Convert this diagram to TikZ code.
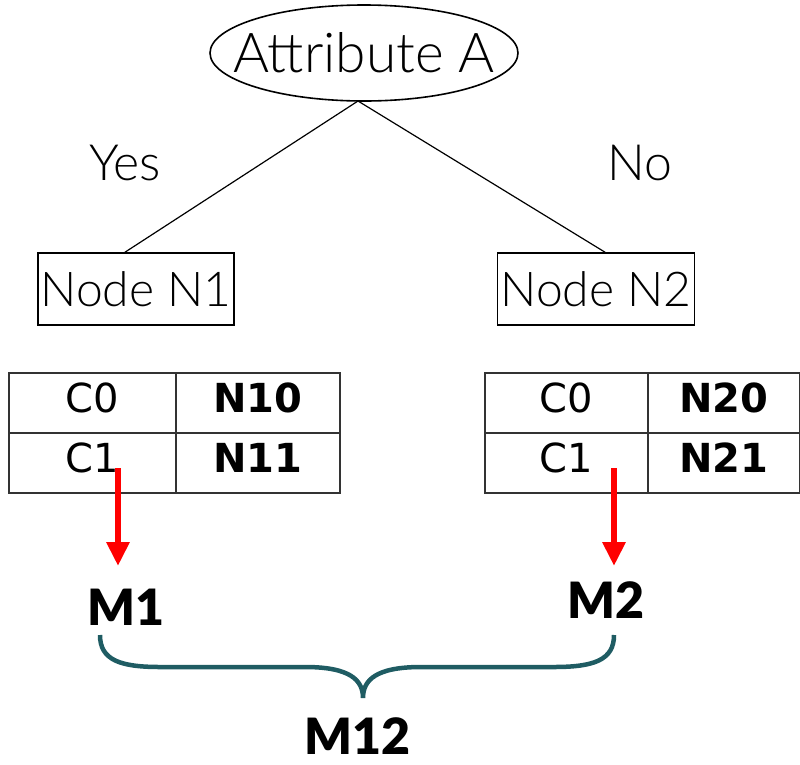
\documentclass[tikz,border=0pt]{standalone}
\usepackage{fontspec}
\setmainfont{Lato Light}
\newfontfamily\boldfont{Lato Black}
\newfontfamily\tabfont{DejaVu Sans}
\usetikzlibrary{shapes.geometric,arrows.meta}

\tikzset{
  cell/.style={draw=black!80,line width=1.2pt,minimum height=60pt,inner sep=0pt,text height=30pt,text depth=12pt,font=\tabfont\fontsize{40}{40}\selectfont},
  bcell/.style={cell,font=\tabfont\bfseries\fontsize{40}{40}\selectfont},
  mlabel/.style={font=\boldfont\fontsize{50}{50}\selectfont,inner sep=1pt},
  nodebox/.style={draw,line width=1.6pt,minimum height=72pt,inner sep=0pt,font=\fontsize{48}{48}\selectfont}
}

\begin{document}
\begin{tikzpicture}[x=1pt,y=-1pt]
                    \useasboundingbox (0,0) rectangle (800,764);
                    \node[font=\fontsize{55}{55}\selectfont](A) at (364,53){Attribute A};
                    \draw[line width=1.6pt](A.center) ellipse (154 and 48);
                    \coordinate (top) at (358,101);
                    \node[nodebox,minimum width=196pt](N1) at (136,289){Node N1};
                    \node[nodebox,minimum width=197pt](N2) at (596,289){Node N2};
                    \node[font=\fontsize{50}{50}\selectfont](yes) at (125,163){Yes};
                    \node[font=\fontsize{50}{50}\selectfont](no) at (640,163){No};
                    \draw[line width=1.2pt](top)--(N1.north -| 125,0);
                    \draw[line width=1.2pt](top)--(N2.north -| 605,0);
                    % tables
                    \node[cell,minimum width=167pt](C10) at (92.5,403){C0};
                    \node[bcell,minimum width=164pt](N10) at (258,403){N10};
                    \node[cell,minimum width=167pt](C11) at (92.5,463){C1};
                    \node[bcell,minimum width=164pt](N11) at (258,463){N11};
                    \node[cell,minimum width=163pt](C20) at (566.5,403){C0};
                    \node[bcell,minimum width=152pt](N20) at (724,403){N20};
                    \node[cell,minimum width=163pt](C21) at (566.5,463){C1};
                    \node[bcell,minimum width=152pt](N21) at (724,463){N21};
                    % results
                    \node[mlabel](M1) at (126,607){M1};
                    \node[mlabel](M2) at (606,600){M2};
                    \node[mlabel](M12) at (357,736){M12};
                    \coordinate (a1) at (118,468);
                    \coordinate (a2) at (614,468);
                    \draw[red,line width=6pt,-{Triangle[width=22pt,length=24pt]}](a1)--(118,566);
                    \draw[red,line width=6pt,-{Triangle[width=22pt,length=24pt]}](a2)--(614,566);
                    \draw[color={rgb,255:red,31;green,92;blue,99},line width=4.5pt]
                      (100,635) .. controls (100,660) and (120,667) .. (160,667) -- (305,667)
                      .. controls (350,667) and (363,680) .. (363,698)
                      .. controls (363,680) and (376,667) .. (421,667) -- (554,667)
                      .. controls (594,667) and (614,660) .. (614,635);
                \end{tikzpicture}
\end{document}
